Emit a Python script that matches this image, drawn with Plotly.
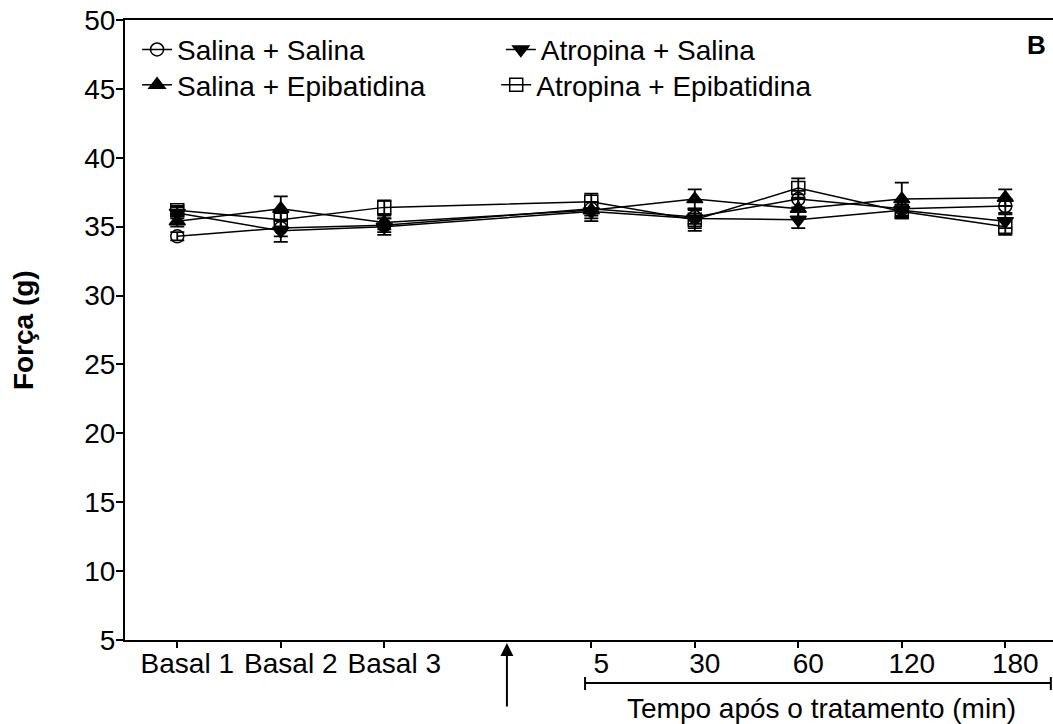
import plotly.graph_objects as go

# Time points: three baseline readings, then minutes after treatment
tick_labels = ["Basal 1", "Basal 2", "Basal 3", "5", "30", "60", "120", "180"]
tick_pos = [0, 1, 2, 4, 5, 6, 7, 8]

series_names = ["Salina + Salina", "Salina + Epibatidina",
                "Atropina + Salina", "Atropina + Epibatidina"]

# Mean force (g) per group
sal_sal = [34.3, 34.9, 35.1, 36.3, 35.7, 37.0, 36.3, 36.5]
sal_epi = [35.4, 36.3, 35.3, 36.2, 37.0, 36.3, 37.0, 37.1]
atr_sal = [36.0, 34.7, 35.0, 36.1, 35.6, 35.5, 36.2, 35.4]
atr_epi = [36.2, 35.5, 36.4, 36.8, 35.5, 37.8, 36.1, 35.0]

# Standard error of the mean
sal_sal_err = [0.3, 0.6, 0.5, 0.5, 0.5, 0.6, 0.6, 0.5]
sal_epi_err = [0.4, 0.9, 0.5, 0.6, 0.7, 0.7, 1.2, 0.6]
atr_sal_err = [0.4, 0.8, 0.6, 0.7, 0.7, 0.6, 0.6, 0.5]
atr_epi_err = [0.3, 0.6, 0.5, 0.6, 0.8, 0.7, 0.5, 0.6]

FONT = "Liberation Sans, Arial, sans-serif"
FS = 28

styles = [
    dict(symbol="circle-open", size=13),
    dict(symbol="triangle-up", size=14),
    dict(symbol="triangle-down", size=14),
    dict(symbol="square-open", size=13),
]
means = [sal_sal, sal_epi, atr_sal, atr_epi]
errs = [sal_sal_err, sal_epi_err, atr_sal_err, atr_epi_err]
legend_ids = ["legend", "legend2", "legend3", "legend4"]

fig = go.Figure()
for name, y, e, st, lg in zip(series_names, means, errs, styles, legend_ids):
    fig.add_trace(go.Scatter(
        x=tick_pos, y=y, name=name, mode="lines+markers",
        line=dict(color="black", width=1.5),
        marker=dict(symbol=st["symbol"], size=st["size"], color="black",
                    line=dict(color="black", width=1.5)),
        error_y=dict(type="data", array=e, visible=True, color="black",
                     thickness=1.8, width=7),
        legend=lg,
    ))

leg_common = dict(font=dict(family=FONT, size=FS, color="black"),
                  bgcolor="rgba(0,0,0,0)", borderwidth=0,
                  xanchor="left", yanchor="middle", itemwidth=30)

fig.update_layout(
    width=1053, height=724,
    margin=dict(l=125, r=0, t=20, b=84),
    paper_bgcolor="white", plot_bgcolor="white",
    font=dict(family=FONT, size=FS, color="black"),
    showlegend=True,
    legend=dict(x=0.013, y=0.952, **leg_common),
    legend2=dict(x=0.013, y=0.895, **leg_common),
    legend3=dict(x=0.405, y=0.952, **leg_common),
    legend4=dict(x=0.400, y=0.895, **leg_common),
    xaxis=dict(
        range=[-0.505, 8.461], tickvals=tick_pos, ticktext=tick_labels,
        showline=True, linecolor="black", linewidth=2, mirror=True,
        ticks="outside", ticklen=6, tickwidth=2, tickcolor="black",
        showgrid=False, zeroline=False, ticklabelshift=10,
        ticklabelstandoff=-9,
        tickfont=dict(family=FONT, size=FS, color="black"),
    ),
    yaxis=dict(
        range=[5, 50], tickvals=list(range(5, 51, 5)),
        showline=True, linecolor="black", linewidth=2,
        ticks="outside", ticklen=7, tickwidth=2, tickcolor="black",
        showgrid=False, zeroline=False, ticklabelstandoff=-5,
        tickfont=dict(family=FONT, size=FS, color="black"),
    ),
)

# Y axis title
fig.add_annotation(text="<b>Força (g)</b>", xref="paper", yref="paper",
                   x=-0.1098, y=0.5, textangle=-90, showarrow=False,
                   font=dict(family=FONT, size=FS, color="black"),
                   xanchor="center", yanchor="middle")

# Panel letter
fig.add_annotation(text="<b>B</b>", xref="paper", yref="paper",
                   x=0.9817, y=0.9597, showarrow=False,
                   font=dict(family=FONT, size=26, color="black"),
                   xanchor="center", yanchor="middle")

# Treatment arrow
fig.add_annotation(x=3.185, y=-0.005, xref="x", yref="paper",
                   ax=0, ay=65, showarrow=True, arrowhead=2, arrowsize=1.3,
                   arrowwidth=2, arrowcolor="black", standoff=0, text="")

# Bracket over the post-treatment time points
bx0, bx1, by = 3.94, 8.44, -0.0694
fig.add_shape(type="line", xref="x", yref="paper", x0=bx0, x1=bx1, y0=by, y1=by,
              line=dict(color="black", width=2))
for bx in (bx0, bx1):
    fig.add_shape(type="line", xref="x", yref="paper", x0=bx, x1=bx,
                  y0=-0.0597, y1=-0.0806, line=dict(color="black", width=2))

fig.add_annotation(text="Tempo após o tratamento (min)", xref="x", yref="paper",
                   x=6.22, y=-0.11, showarrow=False,
                   font=dict(family=FONT, size=FS, color="black"),
                   xanchor="center", yanchor="middle")

fig.write_html("out.html")
